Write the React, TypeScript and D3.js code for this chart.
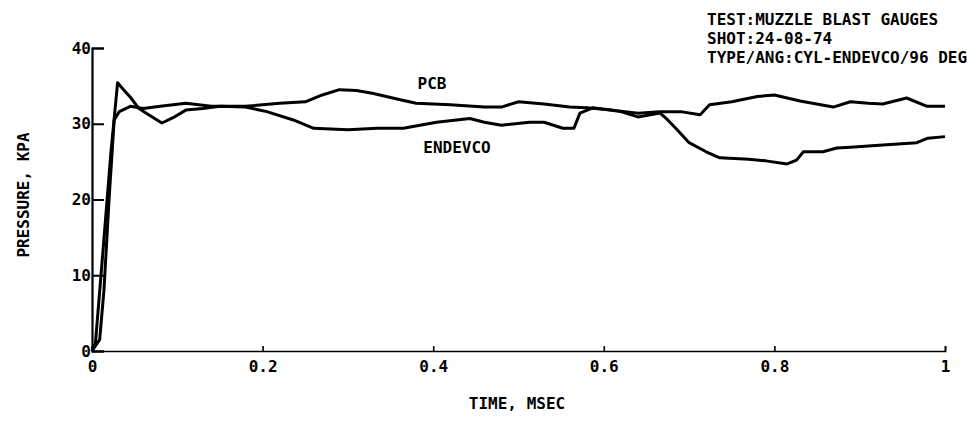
import React, { useEffect, useRef } from "react";
import * as d3 from "d3";

const W = 978;
const H = 424;

const xTicks = [0, 0.2, 0.4, 0.6, 0.8, 1];
const xTickLabels = ["0", "0.2", "0.4", "0.6", "0.8", "1"];
const yTicks = [0, 10, 20, 30, 40];
const yTickLabels = ["0", "10", "20", "30", "40"];

const headerLines = [
  "TEST:MUZZLE BLAST GAUGES",
  "SHOT:24-08-74",
  "TYPE/ANG:CYL-ENDEVCO/96 DEG",
];

const pcbTime = [0, 0.009, 0.014, 0.02, 0.026, 0.032, 0.045, 0.06, 0.08, 0.11, 0.14, 0.18, 0.22, 0.25, 0.27, 0.29, 0.31, 0.33, 0.36, 0.38, 0.42, 0.46, 0.48, 0.5, 0.53, 0.56, 0.58, 0.61, 0.64, 0.666, 0.69, 0.713, 0.724, 0.75, 0.78, 0.8, 0.83, 0.869, 0.889, 0.91, 0.927, 0.955, 0.979, 1.0];
const pcbKpa = [0, 1.5, 8, 20, 30.5, 31.6, 32.3, 32.0, 32.3, 32.7, 32.3, 32.3, 32.7, 32.9, 33.8, 34.5, 34.4, 34.0, 33.2, 32.7, 32.5, 32.2, 32.2, 32.9, 32.6, 32.2, 32.1, 31.8, 31.4, 31.6, 31.6, 31.2, 32.5, 32.9, 33.6, 33.8, 33.0, 32.2, 32.9, 32.7, 32.6, 33.4, 32.3, 32.3];

const endTime = [0, 0.004, 0.012, 0.022, 0.03, 0.037, 0.045, 0.055, 0.065, 0.082, 0.095, 0.11, 0.13, 0.15, 0.18, 0.205, 0.236, 0.26, 0.3, 0.334, 0.365, 0.404, 0.443, 0.46, 0.48, 0.513, 0.53, 0.552, 0.565, 0.572, 0.587, 0.62, 0.64, 0.666, 0.675, 0.686, 0.7, 0.72, 0.736, 0.77, 0.79, 0.815, 0.826, 0.834, 0.857, 0.873, 0.889, 0.927, 0.967, 0.98, 1.0];
const endKpa = [0, 1, 12, 26, 35.4, 34.5, 33.5, 32, 31.3, 30.1, 30.8, 31.8, 32.0, 32.3, 32.2, 31.6, 30.5, 29.4, 29.2, 29.4, 29.4, 30.2, 30.7, 30.2, 29.8, 30.2, 30.2, 29.4, 29.4, 31.4, 32.1, 31.6, 30.9, 31.4, 30.5, 29.2, 27.5, 26.3, 25.5, 25.3, 25.1, 24.7, 25.2, 26.3, 26.3, 26.8, 26.9, 27.2, 27.5, 28.1, 28.3];

const FONT = "'DejaVu Sans Mono', monospace";
const FS = 16;

export default function App() {
  const ref = useRef<SVGSVGElement>(null);

  useEffect(() => {
    const svg = d3.select(ref.current);
    svg.selectAll("*").remove();

    const x = d3.scaleLinear().domain([0, 1]).range([92, 945]);
    const y = d3.scaleLinear().domain([0, 40]).range([351, 48]);

    const g = svg.append("g");

    // X axis
    const xAxis = d3
      .axisBottom(x)
      .tickValues(xTicks)
      .tickSize(-5)
      .tickPadding(10)
      .tickFormat((d, i) => xTickLabels[i]);
    const gx = g.append("g").attr("transform", `translate(0,${y(0)})`).call(xAxis);
    gx.select(".domain").attr("stroke", "#000").attr("stroke-width", 1.6);
    gx.selectAll(".tick line").attr("stroke", "#000").attr("stroke-width", 1.6);
    gx.selectAll(".tick text")
      .attr("font-family", FONT)
      .attr("font-weight", "bold")
      .attr("font-size", FS)
      .attr("fill", "#000");

    // Y axis
    const yAxis = d3
      .axisLeft(y)
      .tickValues(yTicks)
      .tickSize(-12)
      .tickPadding(1)
      .tickFormat((d, i) => yTickLabels[i]);
    const gy = g.append("g").attr("transform", `translate(${x(0)},0)`).call(yAxis);
    gy.select(".domain").attr("stroke", "#000").attr("stroke-width", 2.2);
    gy.selectAll(".tick line").attr("stroke", "#000").attr("stroke-width", 2);
    gy.selectAll(".tick text")
      .attr("font-family", FONT)
      .attr("font-weight", "bold")
      .attr("font-size", FS)
      .attr("fill", "#000");

    const line = d3
      .line<[number, number]>()
      .x((d) => x(d[0]))
      .y((d) => y(d[1]))
      .curve(d3.curveLinear);

    const pcb: [number, number][] = pcbTime.map((t, i) => [t, pcbKpa[i]]);
    const endv: [number, number][] = endTime.map((t, i) => [t, endKpa[i]]);

    [pcb, endv].forEach((data) =>
      g
        .append("path")
        .attr("d", line(data) as string)
        .attr("fill", "none")
        .attr("stroke", "#000")
        .attr("stroke-width", 3)
        .attr("stroke-linejoin", "round")
    );

    const txt = (s: string, tx: number, ty: number, anchor = "start") =>
      g
        .append("text")
        .attr("x", tx)
        .attr("y", ty)
        .attr("text-anchor", anchor)
        .attr("font-family", FONT)
        .attr("font-weight", "bold")
        .attr("font-size", FS)
        .attr("fill", "#000")
        .text(s);

    txt("PCB", 432, 89, "middle");
    txt("ENDEVCO", 457, 153, "middle");
    txt("TIME, MSEC", 517, 409, "middle");

    headerLines.forEach((s, i) => txt(s, 707, 25 + i * 19));

    g.append("text")
      .attr("transform", `translate(29,195) rotate(-90)`)
      .attr("text-anchor", "middle")
      .attr("font-family", FONT)
      .attr("font-weight", "bold")
      .attr("font-size", FS)
      .attr("fill", "#000")
      .text("PRESSURE, KPA");
  }, []);

  return (
    <svg
      ref={ref}
      width={W}
      height={H}
      style={{ position: "absolute", left: 0, top: 0, background: "#fff" }}
    />
  );
}
